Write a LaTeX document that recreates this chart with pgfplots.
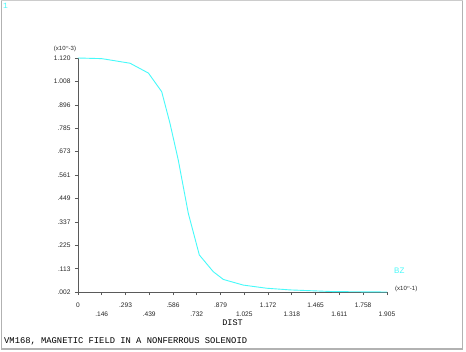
\documentclass[border=0pt]{standalone}
\usepackage{pgfplots}
\pgfplotsset{compat=1.18}
\usepackage{fontspec}
\setmainfont{Liberation Sans}
\newfontfamily\mono{Liberation Mono}
\definecolor{curve}{RGB}{70,250,250}
\definecolor{axgray}{RGB}{90,90,90}
\begin{document}
\begin{tikzpicture}
\useasboundingbox (0,0) rectangle (466pt,351pt);
\fill[white] (0,0) rectangle (466pt,351pt);
\draw[gray!60, line width=1.5pt] (1.5pt,2pt) -- (1.5pt,349.5pt);
\draw[gray!60, line width=1.5pt] (462.5pt,2pt) -- (462.5pt,349.5pt);
\draw[gray!60, line width=2pt] (1pt,2.5pt) -- (463pt,2.5pt);
\draw[gray!40, line width=0.8pt] (1pt,350.5pt) -- (463pt,350.5pt);
\begin{axis}[
  at={(78pt,59pt)}, anchor=south west,
  scale only axis, width=309pt, height=234pt,
  xmin=0, xmax=1.905, ymin=0.002, ymax=1.120,
  axis lines=left,
  axis line style={-, draw=axgray, line width=0.8pt},
  tick align=outside,
  major tick length=3pt,
  every tick/.style={draw=axgray, line width=0.6pt},
  tick label style={font=\fontsize{6.6}{7}\selectfont, text=black!85},
  /pgf/number format/assume math mode=true,
  ytick={0.002,0.113,0.225,0.337,0.449,0.561,0.673,0.785,0.896,1.008,1.120},
  yticklabels={.002,.113,.225,.337,.449,.561,.673,.785,.896,1.008,1.120},
  yticklabel style={xshift=-1pt},
  xtick={0,0.293,0.586,0.879,1.172,1.465,1.758},
  xticklabels={0,.293,.586,.879,1.172,1.465,1.758},
  xticklabel style={yshift=-4pt},
  extra x ticks={0.146,0.439,0.732,1.025,1.318,1.611,1.905},
  extra x tick labels={.146,.439,.732,1.025,1.318,1.611,1.905},
  extra x tick style={xticklabel style={yshift=-9pt}},
  clip=false,
]
\addplot[curve, line width=0.9pt] coordinates {
(0,1.120) (0.146,1.117) (0.321,1.095) (0.434,1.048) (0.516,0.959)
(0.567,0.808) (0.618,0.633) (0.680,0.378) (0.748,0.179) (0.834,0.099)
(0.896,0.062) (1.019,0.035) (1.163,0.020) (1.307,0.012) (1.572,0.004)
(1.905,0.002)
};
\end{axis}
\node[text=curve, font=\mono\fontsize{8}{9}\selectfont, anchor=west, inner sep=0pt] at (3pt,345pt) {1};
\node[font=\fontsize{6}{6}\selectfont, text=black!85, inner sep=0pt] at (65pt,302pt) {(x10\raisebox{1.5pt}{\fontsize{4}{4}\selectfont **}-3)};
\node[font=\fontsize{6}{6}\selectfont, text=black!85, inner sep=0pt, anchor=west] at (395pt,62pt) {(x10\raisebox{1.5pt}{\fontsize{4}{4}\selectfont **}-1)};
\node[text=curve, font=\fontsize{8}{8}\selectfont, inner sep=0pt, anchor=west] at (394pt,80.5pt) {BZ};
\node[font=\mono\fontsize{8.5}{9}\selectfont, inner sep=0pt] at (232.5pt,28.5pt) {DIST};
\node[font=\mono\fontsize{8.8}{9}\selectfont, inner sep=0pt, anchor=west] at (4pt,9.5pt) {VM168, MAGNETIC FIELD IN A NONFERROUS SOLENOID};
\end{tikzpicture}
\end{document}
